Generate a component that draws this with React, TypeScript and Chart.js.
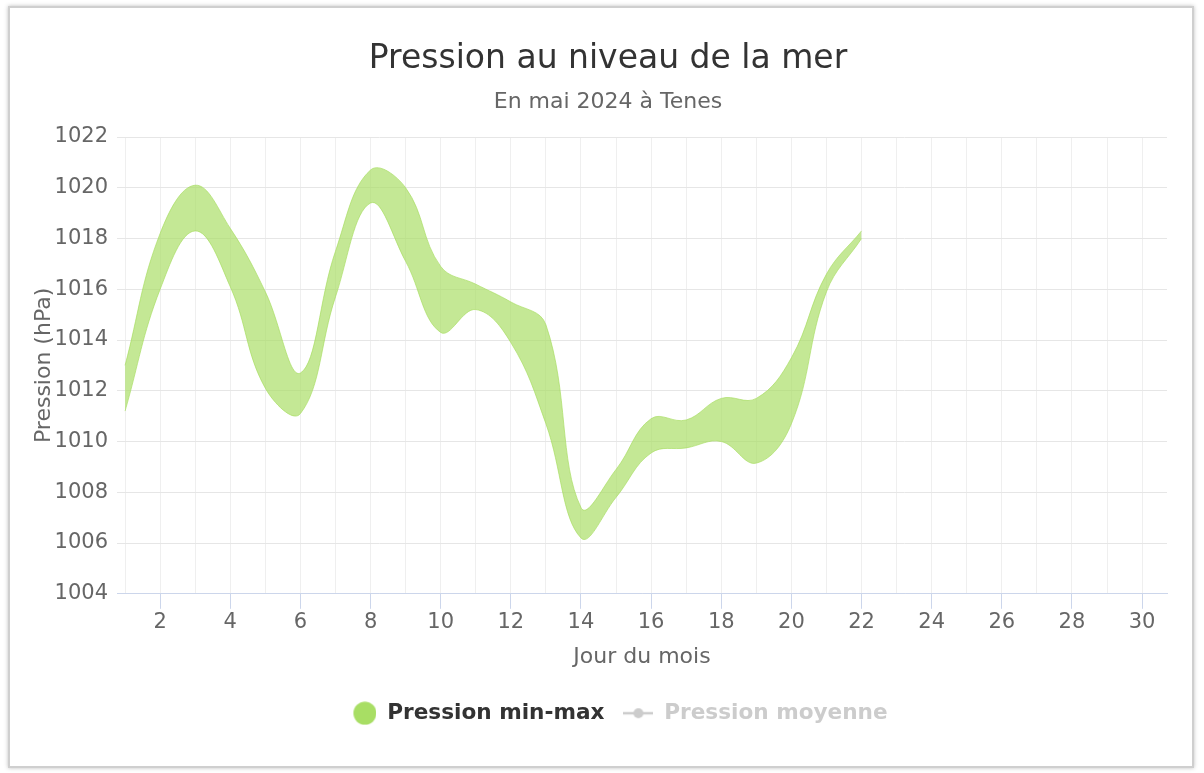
import React, { useEffect, useRef } from 'react';
import { Chart, registerables } from 'chart.js';

Chart.register(...registerables);

// ---- Data ----
const days = [1, 2, 3, 4, 5, 6, 7, 8, 9, 10, 11, 12, 13, 14, 15, 16, 17, 18, 19, 20, 21, 22];
const pressionMax = [1013.0, 1018.2, 1020.1, 1018.4, 1015.9, 1012.7, 1017.5, 1020.7, 1020.0, 1016.9, 1016.2, 1015.5, 1014.6, 1007.4, 1008.9, 1010.9, 1010.85, 1011.7, 1011.7, 1013.3, 1016.6, 1018.3];
const pressionMin = [1011.2, 1016.0, 1018.3, 1016.1, 1012.1, 1011.1, 1015.7, 1019.4, 1017.1, 1014.3, 1015.2, 1013.9, 1010.7, 1006.2, 1007.8, 1009.55, 1009.75, 1010.0, 1009.15, 1010.7, 1015.9, 1018.0];

const xGridDays = [1, 2, 3, 4, 5, 6, 7, 8, 9, 10, 11, 12, 13, 14, 15, 16, 17, 18, 19, 20, 21, 22, 23, 24, 25, 26, 27, 28, 29, 30];
const xLabelDays = [2, 4, 6, 8, 10, 12, 14, 16, 18, 20, 22, 24, 26, 28, 30];
const yTickValues = [1004, 1006, 1008, 1010, 1012, 1014, 1016, 1018, 1020, 1022];

const titleText = 'Pression au niveau de la mer';
const subtitleText = 'En mai 2024 à Tenes';
const xTitle = 'Jour du mois';
const yTitle = 'Pression (hPa)';
const seriesNames = ['Pression min-max', 'Pression moyenne'];

const FONT = '"DejaVu Sans", Verdana, sans-serif';
const GREEN = 'rgb(168, 222, 100)';
const GREEN_FILL = 'rgba(165, 220, 94, 0.66)';

function circleSymbol(color: string) {
  const c = document.createElement('canvas');
  c.width = 30;
  c.height = 24;
  const g = c.getContext('2d')!;
  g.fillStyle = color;
  g.beginPath();
  g.arc(18.5, 12, 11.5, 0, Math.PI * 2);
  g.fill();
  return c;
}

function lineSymbol(color: string) {
  const c = document.createElement('canvas');
  c.width = 30;
  c.height = 24;
  const g = c.getContext('2d')!;
  g.strokeStyle = color;
  g.lineWidth = 2.5;
  g.beginPath();
  g.moveTo(0, 12);
  g.lineTo(30, 12);
  g.stroke();
  g.fillStyle = color;
  g.beginPath();
  g.arc(15, 12, 5, 0, Math.PI * 2);
  g.fill();
  return c;
}

// shifts the (centred) legend row slightly to the right, as in the reference
const legendShift = {
  id: 'legendShift',
  afterLayout(chart: any) {
    if (chart.legend) {
      chart.legend.left += 9;
      chart.legend.right += 9;
    }
  },
};

export default function App() {
  const ref = useRef<HTMLCanvasElement | null>(null);

  useEffect(() => {
    if (!ref.current) return;
    const symMinMax = circleSymbol(GREEN);
    const symMoy = lineSymbol('#cccccc');

    const chart = new Chart(ref.current, {
      type: 'line',
      data: {
        datasets: [
          {
            label: seriesNames[0],
            data: days.map((d, i) => ({ x: d, y: pressionMax[i] })),
            borderColor: GREEN_FILL,
            borderWidth: 1,
            backgroundColor: GREEN_FILL,
            pointRadius: 0,
            tension: 0.4,
            fill: '+1',
          },
          {
            label: seriesNames[0] + ' (min)',
            data: days.map((d, i) => ({ x: d, y: pressionMin[i] })),
            borderColor: GREEN_FILL,
            borderWidth: 1,
            backgroundColor: GREEN_FILL,
            pointRadius: 0,
            tension: 0.4,
            fill: false,
          },
        ],
      },
      plugins: [legendShift],
      options: {
        responsive: false,
        animation: false,
        devicePixelRatio: 1,
        layout: { padding: { top: 0, left: 12, right: 0, bottom: 39 } },
        plugins: {
          title: {
            display: true,
            text: titleText,
            color: '#333333',
            font: { family: FONT, size: 33, weight: 'normal' },
            padding: { top: 40, bottom: 0 },
          },
          subtitle: {
            display: true,
            text: subtitleText,
            color: '#666666',
            font: { family: FONT, size: 22, weight: 'normal' },
            padding: { top: 9, bottom: 22 },
          },
          legend: {
            display: true,
            position: 'bottom',
            onClick: () => {},
            labels: {
              usePointStyle: true,
              pointStyleWidth: 30,
              boxHeight: 22,
              padding: 19,
              font: { family: FONT, size: 21.6, weight: 'bold' },
              generateLabels: () => [
                {
                  text: seriesNames[0],
                  fillStyle: GREEN,
                  strokeStyle: GREEN,
                  lineWidth: 0,
                  hidden: false,
                  pointStyle: symMinMax as any,
                  fontColor: '#333333',
                  datasetIndex: 0,
                },
                {
                  text: seriesNames[1],
                  fillStyle: '#cccccc',
                  strokeStyle: '#cccccc',
                  lineWidth: 0,
                  hidden: false,
                  pointStyle: symMoy as any,
                  fontColor: '#cccccc',
                  datasetIndex: 1,
                },
              ],
            },
          },
          tooltip: { enabled: false },
        },
        scales: {
          x: {
            type: 'linear',
            min: 0.77,
            max: 30.71,
            afterBuildTicks: (scale: any) => {
              scale.ticks = xGridDays.map((v) => ({ value: v }));
            },
            ticks: {
              autoSkip: false,
              maxRotation: 0,
              padding: 1,
              color: '#666666',
              font: { family: FONT, size: 21 },
              callback: (v: any) => (xLabelDays.includes(Number(v)) ? String(v) : ''),
            },
            grid: {
              color: '#efefef',
              lineWidth: 1,
              tickLength: 15,
              tickColor: (ctx: any) =>
                ctx.tick && xLabelDays.includes(ctx.tick.value) ? '#ccd6eb' : 'rgba(0,0,0,0)',
            },
            border: { display: true, color: '#ccd6eb', width: 1 },
            title: {
              display: true,
              text: xTitle,
              color: '#666666',
              font: { family: FONT, size: 22 },
              padding: { top: 8, bottom: 13 },
            },
          },
          y: {
            type: 'linear',
            min: 1004,
            max: 1022,
            afterBuildTicks: (scale: any) => {
              scale.ticks = yTickValues.map((v) => ({ value: v }));
            },
            afterFit: (scale: any) => {
              scale.width = 105;
            },
            ticks: {
              padding: 9,
              color: '#666666',
              font: { family: FONT, size: 21 },
              callback: (v: any) => String(v),
            },
            grid: { color: '#e6e6e6', lineWidth: 1, drawTicks: false },
            border: { display: false },
            title: {
              display: true,
              text: yTitle,
              color: '#666666',
              font: { family: FONT, size: 22 },
              padding: { top: 19, bottom: 0 },
            },
          },
          yRight: {
            type: 'linear',
            position: 'right',
            display: true,
            afterFit: (scale: any) => {
              scale.width = 37;
            },
            ticks: { display: false },
            grid: { drawOnChartArea: false, drawTicks: false },
            border: { display: false },
          },
        },
      },
    } as any);

    return () => chart.destroy();
  }, []);

  return (
    <div style={{ position: 'fixed', left: 0, top: 0, width: 1204, height: 773, background: '#ffffff' }}>
      <div
        style={{
          position: 'absolute',
          left: 8,
          top: 6,
          width: 1186,
          height: 762,
          border: '2px solid #cfcfcf',
          boxShadow: '0 0 4px rgba(0,0,0,0.25)',
          background: '#ffffff',
          boxSizing: 'border-box',
        }}
      />
      <canvas ref={ref} width={1204} height={773} style={{ position: 'absolute', left: 0, top: 0 }} />
    </div>
  );
}
